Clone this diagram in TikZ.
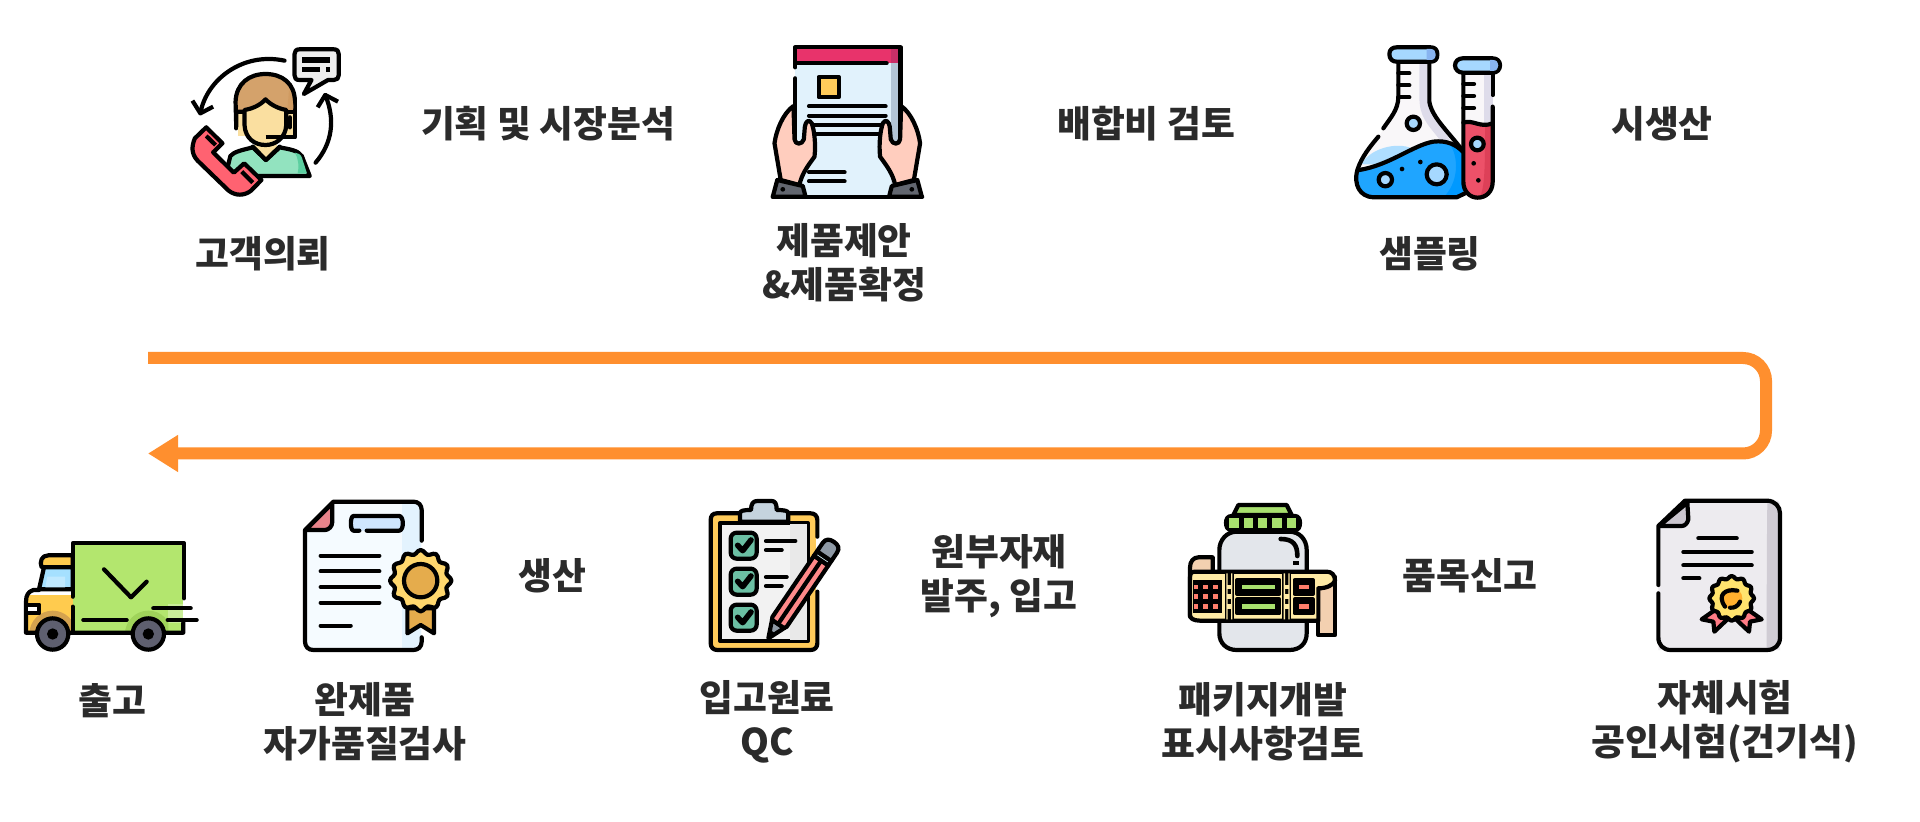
\documentclass[tikz,border=0pt]{standalone}
\usepackage{fontspec}
\setmainfont{Noto Sans CJK KR}[BoldFont=* Black]
\usetikzlibrary{arrows.meta}
\definecolor{ink}{HTML}{2B2B2B}
\definecolor{flow}{HTML}{FF8F2E}
\definecolor{cBody}{HTML}{92E3BF}\definecolor{cBodyB}{HTML}{5CCFA0}
\definecolor{cHair}{HTML}{D4A26B}\definecolor{cFace}{HTML}{FADFA0}
\definecolor{cPhone}{HTML}{FF6271}\definecolor{cBubble}{HTML}{EEEEEE}
\definecolor{cPaper}{HTML}{E1F2FC}\definecolor{cPaperB}{HTML}{B3C5D6}
\definecolor{cBand}{HTML}{E8336B}\definecolor{cBandB}{HTML}{C92F68}
\definecolor{cSun}{HTML}{FFCB5A}\definecolor{cSkin}{HTML}{FFCDBE}
\definecolor{cCuff}{HTML}{62666F}
\definecolor{cFlask}{HTML}{F9F7F9}\definecolor{cFlaskB}{HTML}{DEDCEA}
\definecolor{cLiq}{HTML}{1FA5FF}\definecolor{cLiqB}{HTML}{0099FF}
\definecolor{cLiqL}{HTML}{AFDEFF}\definecolor{cCap}{HTML}{A6D8FF}\definecolor{cCapB}{HTML}{88B4F0}
\definecolor{cTube}{HTML}{ED5169}\definecolor{cTubeB}{HTML}{DD4058}
\definecolor{cTruck}{HTML}{B3E66E}\definecolor{cTruckB}{HTML}{9FD35A}
\definecolor{cCab}{HTML}{FFCB4E}\definecolor{cCabB}{HTML}{D4A24F}
\definecolor{cWin}{HTML}{A5E0FF}\definecolor{cWheel}{HTML}{5E5F6F}
\definecolor{cDoc}{HTML}{F5FBFF}\definecolor{cDocB}{HTML}{E3F3FE}
\definecolor{cFold}{HTML}{E8838A}\definecolor{cTag}{HTML}{CFE6FF}
\definecolor{cBadge}{HTML}{FFD76E}\definecolor{cGold}{HTML}{E5AC4C}
\definecolor{cSheet}{HTML}{F2F2F2}\definecolor{cSheetB}{HTML}{E9E9E9}
\definecolor{cClip}{HTML}{C5D3DE}\definecolor{cCheck}{HTML}{6BBFA3}
\definecolor{cPencil}{HTML}{FF8A8A}\definecolor{cFerr}{HTML}{CFEAF0}
\definecolor{cErase}{HTML}{8E99A5}
\definecolor{cJar}{HTML}{E3E6EB}\definecolor{cLid}{HTML}{A8E06E}
\definecolor{cTab}{HTML}{F3D0B0}\definecolor{cLabel}{HTML}{FFEBA6}\definecolor{cRed}{HTML}{FF7E6B}
\definecolor{cCert}{HTML}{EDEBEF}\definecolor{cCertB}{HTML}{D0CCD4}\definecolor{cCFold}{HTML}{CBC6CF}
\definecolor{cCBadge}{HTML}{FFE36E}\definecolor{cCCore}{HTML}{FFB02E}\definecolor{cRib}{HTML}{FF7B85}
\tikzset{
  ol/.style={draw=black,line width=2.1pt,line cap=round,line join=round},
  lab/.style={font=\fontsize{18.4}{22}\selectfont\bfseries,text=ink,align=center,inner sep=0pt},
  zoomed/.style={x=0.16667pt,y=-0.16667pt},
  zoomedw/.style={x=0.1725pt,y=-0.16667pt}
}
\begin{document}
\begin{tikzpicture}[x=0.5pt,y=-0.5pt]
\useasboundingbox (0,0) rectangle (1920,822);
\fill[white] (0,0) rectangle (1920,822);
% ---- flow
\coordinate (flowstart) at (148,358);
\coordinate (flowc1) at (1766,358);
\coordinate (flowc2) at (1766,453.5);
\coordinate (flowend) at (148,453.5);
\draw[flow,line width=6pt,rounded corners=11.5pt,-{Triangle[length=15pt,width=17.5pt]}] (flowstart) -- (flowc1) -- (flowc2) -- (flowend);
% ---- labels
\node[lab] (t1) at (263,254) {고객의뢰};
\node[lab] (t2) at (548,124) {기획 및 시장분석};
\node[lab] (t3) at (844,263) {제품제안\\\&제품확정};
\node[lab] (t4) at (1146,124) {배합비 검토};
\node[lab] (t5) at (1430,254) {샘플링};
\node[lab] (t6) at (1662,124) {시생산};
\node[lab] (t7) at (112,701) {출고};
\node[lab] (t8) at (365,722) {완제품\\자가품질검사};
\node[lab] (t9) at (552,576) {생산};
\node[lab] (t10) at (767,722) {입고원료\\QC};
\node[lab] (t11) at (999,576) {원부자재\\발주, 입고};
\node[lab] (t12) at (1263,722) {패키지개발\\표시사항검토};
\node[lab] (t13) at (1470,576) {품목신고};
\node[lab] (t14) at (1725,722) {자체시험\\공인시험(건기식)};
% ---- icon 1: customer
\begin{scope}[shift={(170,30)},zoomedw]
\draw[ol,fill=cBubble] (375,58) -- (475,58) .. controls (485,58) and (489,64) .. (489,72) -- (489,136) .. controls (489,145) and (484,150) .. (475,150) -- (458,150) -- (388,192) -- (410,150) -- (375,150) .. controls (365,150) and (361,145) .. (361,136) -- (361,72) .. controls (361,64) and (365,58) .. (375,58) -- cycle;
\draw[ol,line width=2.6pt,line cap=butt] (383,90) -- (465,90) (383,118) -- (435,118) (452,118) -- (465,118);
\draw[ol] (332,92) .. controls (210,65) and (105,150) .. (88,250);
\draw[ol,line cap=butt] (65,212) -- (88,250) -- (125,230);
\draw[ol] (422,398) .. controls (470,340) and (480,270) .. (450,195);
\draw[ol,line cap=butt] (428,232) -- (450,195) -- (487,215);
% body
\draw[ol,fill=cBody] (165,420) -- (175,378) .. controls (185,365) and (210,360) .. (240,352) -- (278,390) -- (318,352) .. controls (345,358) and (370,360) .. (382,378) -- (405,438) -- (220,438) -- cycle;
\fill[cBodyB] (362,368) .. controls (372,370) and (378,372) .. (382,382) -- (397,430) -- (370,430) .. controls (375,410) and (372,385) .. (362,368) -- cycle;
% neck
\fill[cFace] (245,340) -- (310,340) -- (310,358) -- (278,388) -- (245,355) -- cycle;
% hair & face
\fill[cFace] (196,240) rectangle (358,318);
\draw[ol,fill=cHair] (192,290) -- (190,215) .. controls (192,160) and (230,132) .. (277,132) .. controls (325,132) and (362,160) .. (362,215) -- (362,245) -- (192,245) -- cycle;
\fill[cHair!80!brown] (345,180) .. controls (355,200) and (358,220) .. (358,240) -- (340,240) -- cycle;
\draw[ol] (192,240) -- (192,295) (362,240) -- (362,322) -- (345,322);
\draw[ol,fill=cFace] (216,240) .. controls (240,236) and (262,225) .. (277,208) .. controls (292,225) and (315,236) .. (337,240) -- (337,285) .. controls (335,325) and (305,345) .. (277,345) .. controls (245,345) and (218,325) .. (216,285) -- cycle;
\draw[ol] (240,350) -- (278,390) -- (318,350);
\draw[ol,line cap=butt] (277,320) -- (345,320);
\draw[ol] (347,262) -- (347,292);
% phone
\draw[ol,fill=cPhone] (105,292) -- (152,340) -- (125,367) -- (185,428) -- (215,400) -- (265,450) -- (235,482) .. controls (215,498) and (190,498) .. (170,482) -- (80,392) .. controls (62,372) and (62,350) .. (72,325) -- cycle;
\draw[ol,line cap=butt] (105,318) -- (132,345);
\draw[ol,line cap=butt] (208,425) -- (240,458);
\end{scope}
% ---- icon 2: proposal
\begin{scope}[shift={(740,30)},zoomedw]
\fill[cPaper] (160,100) rectangle (462,497);
\fill[cPaperB] (437,100) rectangle (460,340);
\fill[cPaperB!60!white] (437,430) rectangle (450,465);
\fill[cBand] (160,55) rectangle (462,100);
\fill[cBandB] (437,55) rectangle (462,100);
\draw[ol] (160,112) -- (160,52) -- (465,52) -- (465,340);
\draw[ol] (160,100) -- (425,100);
\draw[ol] (160,145) -- (160,330);
\draw[ol,fill=cSun] (228,141) rectangle (286,202);
\draw[ol] (200,229) -- (422,229) (200,257) -- (422,257) (215,285) -- (408,285) (220,313) -- (402,313);
\draw[ol] (200,427) -- (303,427) (200,454) -- (303,454);
\foreach \sx/\px in {1/0,-1/622}{
\begin{scope}[shift={(\px,0)},xscale=\sx]
\draw[ol,fill=cSkin] (155,228) .. controls (125,250) and (105,300) .. (100,340) -- (118,450) -- (172,465) .. controls (180,430) and (195,410) .. (216,380) .. controls (220,340) and (215,300) .. (208,280) .. controls (200,265) and (190,275) .. (188,290) -- (185,328) .. controls (180,345) and (160,345) .. (158,328) -- cycle;
\draw[ol,fill=cCuff] (108,450) -- (182,468) -- (190,500) -- (95,500) -- cycle;
\fill[black] (124,478) circle (7);
\end{scope}}
\draw[ol] (95,500) -- (528,500);
\end{scope}
% ---- icon 3: lab
\begin{scope}[shift={(1300,30)},zoomed]
\fill[cFlask] (295,95) -- (388,95) -- (388,215) .. controls (395,260) and (440,300) .. (490,370) -- (490,500) -- (215,500) .. controls (160,490) and (160,430) .. (180,400) .. controls (210,350) and (290,260) .. (295,200) -- cycle;
\fill[cFlaskB] (358,95) -- (388,95) -- (388,215) .. controls (395,260) and (425,290) .. (450,330) -- (420,330) .. controls (380,280) and (358,260) .. (358,200) -- cycle;
\fill[cLiq] (178,420) .. controls (270,405) and (340,345) .. (400,335) .. controls (440,330) and (470,345) .. (490,375) -- (490,490) -- (460,502) -- (215,502) .. controls (165,490) and (165,450) .. (178,420) -- cycle;
\fill[cLiqL] (185,402) .. controls (210,355) and (290,335) .. (335,355) .. controls (290,385) and (240,410) .. (185,402) -- cycle;
\fill[cLiqB] (445,335) .. controls (470,345) and (485,360) .. (490,375) -- (490,490) -- (460,502) -- (430,502) .. controls (475,460) and (480,380) .. (445,335) -- cycle;
\draw[ol] (295,95) -- (295,200) .. controls (295,240) and (270,265) .. (250,295);
\draw[ol] (235,320) .. controls (210,350) and (185,380) .. (172,420) .. controls (160,465) and (180,500) .. (220,502) -- (470,502) -- (495,490);
\draw[ol] (388,95) -- (388,215) .. controls (395,260) and (440,300) .. (488,362);
\draw[ol] (178,420) .. controls (270,405) and (340,345) .. (400,335) .. controls (440,330) and (470,345) .. (488,365);
\draw[ol] (295,130) -- (328,130) (295,166) -- (328,166) (295,202) -- (328,202);
\draw[ol,fill=cCap] (268,72) .. controls (268,58) and (278,52) .. (290,52) -- (392,52) .. controls (405,52) and (412,60) .. (412,73) .. controls (412,88) and (405,95) .. (392,95) -- (290,95) .. controls (278,95) and (268,88) .. (268,72) -- cycle;
\fill[cCapB] (380,57) -- (392,57) .. controls (402,57) and (407,64) .. (407,73) .. controls (407,84) and (402,90) .. (392,90) -- (380,90) -- cycle;
\draw[ol,fill=cCap] (340,280) circle (20);
\draw[ol,fill=cCap] (256,449) circle (20);
\draw[ol,fill=cCap] (410,433) circle (30);
\fill[black] (306,417) circle (7) (361,396) circle (7);
% tube
\fill[cFlask] (488,120) rectangle (578,285);
\fill[cFlaskB] (552,120) rectangle (578,285);
\fill[cTube] (490,278) .. controls (520,268) and (540,295) .. (578,280) -- (578,450) .. controls (578,485) and (555,503) .. (533,503) .. controls (510,503) and (490,485) .. (490,450) -- cycle;
\fill[cTubeB] (555,290) -- (578,280) -- (578,450) .. controls (578,480) and (560,498) .. (538,502) .. controls (555,480) and (555,400) .. (555,290) -- cycle;
\draw[ol] (490,125) -- (490,455) .. controls (490,485) and (510,503) .. (533,503) .. controls (558,503) and (578,485) .. (578,455) -- (578,230);
\draw[ol] (578,130) -- (578,195);
\draw[ol] (490,278) .. controls (520,268) and (540,295) .. (578,280);
\draw[ol] (490,162) -- (522,162) (490,198) -- (522,198) (490,234) -- (522,234);
\draw[ol,fill=cCap] (465,106) .. controls (465,94) and (475,85) .. (488,85) -- (578,85) .. controls (592,85) and (600,94) .. (600,106) .. controls (600,118) and (592,128) .. (578,128) -- (488,128) .. controls (475,128) and (465,118) .. (465,106) -- cycle;
\fill[cCapB] (570,90) -- (578,90) .. controls (590,90) and (595,97) .. (595,106) .. controls (595,115) and (590,123) .. (578,123) -- (570,123) -- cycle;
\draw[ol,fill=cCap] (532,342) circle (19);
\fill[black] (521,400) circle (7) (535,451) circle (7);
\end{scope}
% ---- icon 4: truck
\begin{scope}[shift={(0,480)},zoomed]
\fill[cCab] (85,345) rectangle (218,455);
\fill[cTruck] (220,190) rectangle (550,372);
\fill[cTruck] (220,372) rectangle (505,455);
\fill[cTruck!70!white] (505,372) rectangle (548,428);
\fill[cTruck] (505,428) rectangle (548,455);
\begin{scope}
\clip (85,345) rectangle (218,450);
\fill[cCabB] (158,462) circle (70);
\end{scope}
\begin{scope}
\clip (220,345) rectangle (505,450);
\fill[cTruckB] (445,462) circle (70);
\end{scope}
\draw[ol,fill=cCab] (125,262) -- (218,262) -- (218,226) -- (145,226) .. controls (125,226) and (118,245) .. (125,262) -- cycle;
\draw[ol,fill=cWin] (132,262) -- (218,262) -- (218,328) -- (117,328) -- cycle;
\fill[cWin!70!white] (142,290) -- (195,290) -- (195,322) -- (136,322) -- cycle;
\draw[ol] (117,330) -- (100,330) .. controls (85,335) and (78,345) .. (78,365) -- (78,458) -- (550,458) -- (550,428);
\draw[ol,fill=white] (85,374) -- (118,374) -- (118,400) -- (85,400);
\draw[ol] (218,350) -- (218,225) -- (218,190) -- (552,190) -- (552,355);
\draw[ol] (218,380) -- (218,455);
\draw[ol] (312,268) -- (393,352) -- (440,305);
\draw[ol] (250,420) -- (380,420);
\draw[ol] (460,385) -- (572,385) (503,420) -- (590,420);
\foreach \wx in {158,445}{
\draw[ol,fill=cWheel] (\wx,462) circle (47);
\fill[black] (\wx,462) circle (17);}
\end{scope}
% ---- icon 5: finished product
\begin{scope}[shift={(0,480)},zoomed]
\fill[cDoc] (1000,65) -- (1265,65) -- (1265,510) -- (915,510) -- (915,150) -- cycle;
\fill[cDocB] (1205,68) -- (1262,68) -- (1262,508) -- (1205,508) -- cycle;
\draw[ol] (1265,182) -- (1265,90) .. controls (1265,75) and (1255,65) .. (1240,65) -- (1000,65) -- (915,150) -- (915,485) .. controls (915,500) and (925,510) .. (940,510) -- (1240,510) .. controls (1255,510) and (1265,500) .. (1265,485) -- (1265,472);
\draw[ol,fill=cFold] (997,70) -- (997,125) .. controls (997,140) and (985,150) .. (975,150) -- (917,150) -- cycle;
\draw[ol,fill=cTag] (1078,152) -- (1060,152) .. controls (1050,150) and (1050,110) .. (1060,108) -- (1198,108) .. controls (1212,110) and (1212,150) .. (1198,152) -- (1100,152);
\draw[ol] (962,227) -- (1138,227) (962,274) -- (1138,274) (962,321) -- (1138,321) (962,368) -- (1138,368) (962,437) -- (1052,437);
\draw[ol,fill=cGold] (1222,385) -- (1222,460) -- (1262,435) -- (1302,460) -- (1302,385) -- cycle;
\draw[ol,fill=cBadge,smooth,samples=73,domain=0:360] plot ({1262+(86+6*cos(12*\x))*cos(\x)},{302+(86+6*cos(12*\x))*sin(\x)}) -- cycle;
\draw[ol,fill=cGold] (1262,302) circle (50);
\end{scope}
% ---- icon 6: checklist
\begin{scope}[shift={(680,480)},zoomed]
\fill[cSun] (95,100) rectangle (408,508);
\draw[ol] (180,100) -- (110,100) .. controls (98,100) and (92,108) .. (92,120) -- (92,490) .. controls (92,502) and (100,510) .. (112,510) -- (392,510) .. controls (404,510) and (412,502) .. (412,490) -- (412,335);
\draw[ol] (328,100) -- (392,100) .. controls (404,100) and (412,108) .. (412,120) -- (412,170);
\draw[ol,fill=cSheet] (120,130) rectangle (384,482);
\fill[cSheetB] (330,133) rectangle (381,479);
\draw[ol,fill=cClip] (180,125) -- (180,100) .. controls (180,92) and (190,90) .. (213,90) .. controls (213,70) and (220,63) .. (232,63) -- (275,63) .. controls (285,63) and (290,70) .. (290,90) .. controls (312,90) and (325,92) .. (325,100) -- (325,125) -- cycle;
\foreach \cy in {158,266,374}{
\draw[ol,rounded corners=3pt,fill=cCheck] (152,\cy) rectangle ++(78,78);
\draw[ol,line width=2.8pt] (173,\cy+38) -- (188,\cy+54) -- (213,\cy+22);}
\draw[ol] (258,183) -- (346,183) (258,210) -- (305,210) (258,291) -- (320,291) (258,318) -- (305,318);
\begin{scope}[shift={(265,475)},rotate=55.8]
\draw[ol,fill=cErase] (0,0) -- (52,-22) -- (52,22) -- cycle;
\fill[black] (0,0) -- (24,-10) -- (24,10) -- cycle;
\draw[ol,fill=cPencil] (60,-26) -- (282,-26) -- (282,26) -- (60,26) -- (52,22) -- (52,-22) -- cycle;
\draw[ol] (60,0) -- (282,0);
\draw[ol,fill=cFerr] (282,-26) rectangle (298,26);
\draw[ol,fill=cErase] (298,-26) -- (328,-26) .. controls (345,-26) and (350,-15) .. (350,0) .. controls (350,15) and (345,26) .. (328,26) -- (298,26) -- cycle;
\end{scope}
\end{scope}
% ---- icon 7: package
\begin{scope}[shift={(1170,490)},zoomed]
\draw[ol,fill=cJar] (200,125) -- (358,125) .. controls (390,125) and (410,150) .. (410,180) -- (410,430) .. controls (410,460) and (390,480) .. (358,480) -- (200,480) .. controls (170,480) and (148,460) .. (148,430) -- (148,180) .. controls (148,150) and (170,125) .. (200,125) -- cycle;
\draw[ol,line width=2.3pt] (332,147) .. controls (370,147) and (382,165) .. (382,198);
\fill[black] (370,212) rectangle (386,226);
\draw[ol,fill=cLid] (205,45) -- (350,45) -- (365,75) -- (190,75) -- cycle;
\draw[ol,fill=black] (185,78) -- (375,78) .. controls (385,78) and (390,88) .. (390,98) .. controls (390,112) and (385,120) .. (375,120) -- (185,120) .. controls (172,120) and (168,110) .. (168,98) .. controls (168,88) and (172,78) .. (185,78) -- cycle;
\foreach \lx in {192,235,278,321,364}{\fill[cLid] (\lx-14,85) rectangle (\lx+14,113);}
\draw[ol,fill=cTab] (128,202) -- (85,202) .. controls (70,202) and (60,215) .. (60,232) -- (60,380) -- (128,380) -- cycle;
\draw[ol,fill=cTab] (445,260) -- (495,260) -- (495,435) -- (445,435) -- cycle;
\draw[ol,fill=cLabel] (60,262) .. controls (60,250) and (65,245) .. (75,245) -- (470,245) .. controls (485,245) and (495,255) .. (495,272) .. controls (490,285) and (470,295) .. (445,295) -- (445,392) -- (90,392) .. controls (70,392) and (60,385) .. (60,375) -- cycle;
\fill[black] (68,270) rectangle (157,370);
\foreach \gy in {291,320,349}{\foreach \gx in {78,107,136}{\fill[cRed] (\gx-7,\gy-7) rectangle (\gx+7,\gy+7);}}
\foreach \gx in {178,350}{
\fill[black] (\gx-14,250) rectangle (\gx+14,388);
\fill[cLabel] (\gx-9,250) rectangle (\gx-5,388) (\gx+5,250) rectangle (\gx+9,388);
\foreach \gy in {291,320,349}{\fill[cLabel] (\gx-7,\gy-7) rectangle (\gx+7,\gy+7);}}
\foreach \by in {270,328}{
\draw[ol,fill=black] (202,\by) rectangle (328,\by+42);
\fill[cLid] (215,\by+14) rectangle (315,\by+28);
\draw[ol,fill=black] (374,\by) rectangle (428,\by+42);
\fill[cRed] (386,\by+14) rectangle (416,\by+28);}
\end{scope}
% ---- icon 8: certificate
\begin{scope}[shift={(1630,480)},zoomed]
\fill[cCert] (165,62) -- (450,62) -- (450,510) -- (85,510) -- (85,138) -- cycle;
\fill[cCertB] (412,65) .. controls (445,75) and (448,95) .. (448,110) -- (448,470) .. controls (445,495) and (430,508) .. (410,508) .. controls (410,350) and (410,200) .. (412,65) -- cycle;
\fill[white] (440,55) -- (456,55) -- (456,85) .. controls (452,72) and (448,65) .. (440,55) -- cycle;
\draw[ol] (85,315) -- (85,138) -- (165,62) -- (410,62) .. controls (435,62) and (450,80) .. (450,100) -- (450,472) .. controls (450,495) and (435,510) .. (410,510) -- (122,510) .. controls (100,510) and (85,495) .. (85,472) -- (85,340);
\draw[ol,fill=cCFold] (172,68) -- (175,118) .. controls (172,130) and (165,138) .. (155,138) -- (87,138) -- cycle;
\draw[ol] (205,175) -- (320,175) (160,216) -- (365,216) (160,256) -- (365,256) (160,295) -- (208,295);
\draw[ol,fill=cRib] (262,385) -- (215,418) -- (250,425) -- (253,455) -- (290,420) -- cycle;
\draw[ol,fill=cRib] (348,385) -- (395,418) -- (360,425) -- (357,455) -- (320,420) -- cycle;
\draw[ol,fill=cCBadge,smooth,samples=73,domain=0:360] plot ({305+(63+4*cos(12*\x))*cos(\x)},{355+(63+4*cos(12*\x))*sin(\x)}) -- cycle;
\fill[cCCore] (305,355) circle (32);
\draw[ol] (285,380) .. controls (260,345) and (285,325) .. (322,332);
\draw[ol] (330,365) .. controls (325,378) and (312,385) .. (300,383);
\end{scope}
\end{tikzpicture}
\end{document}
